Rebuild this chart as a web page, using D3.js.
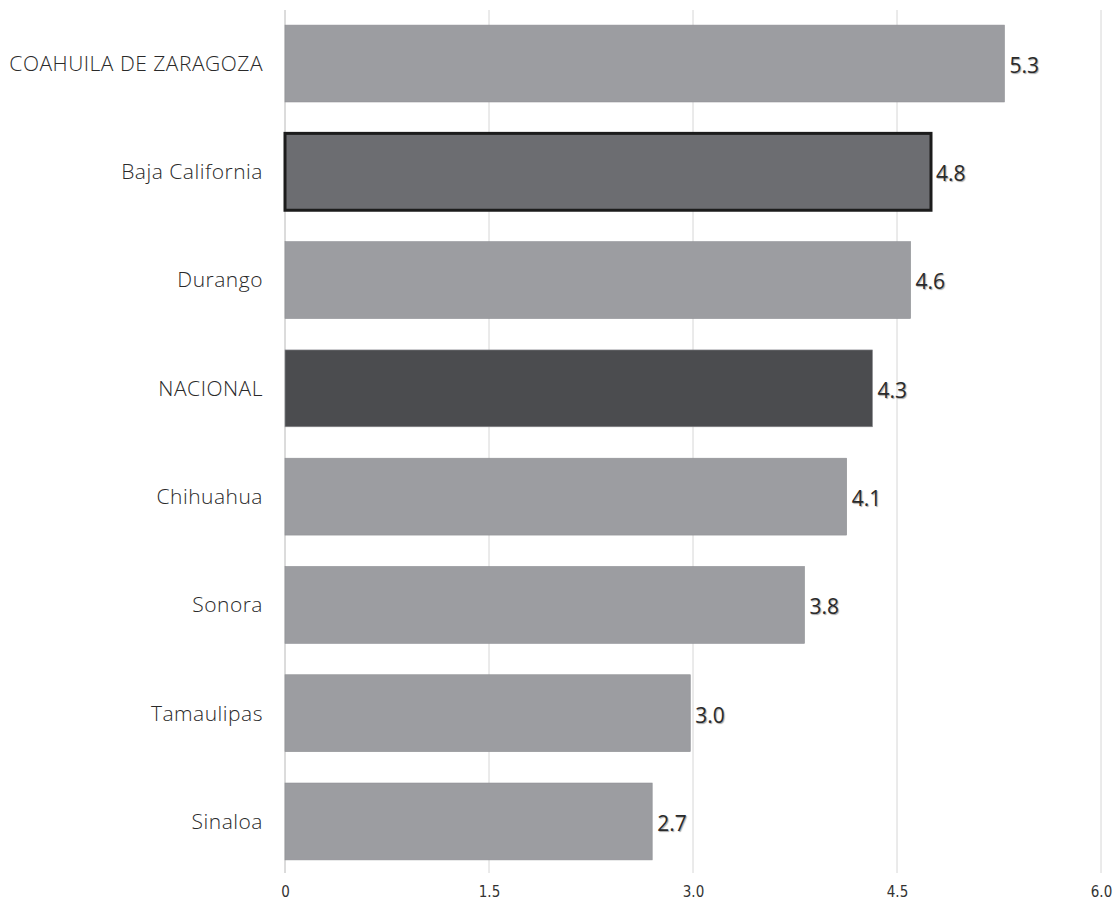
<!DOCTYPE html>
<html>
<head>
<meta charset="utf-8">
<script src="https://cdn.jsdelivr.net/npm/d3@7"></script>
<style>
  html, body { margin: 0; padding: 0; background: #fff; }
  svg { display: block; }
  .cat { font-family: "Open Sans", "Lato", sans-serif; font-weight: 300; font-size: 21px; letter-spacing: 0.5px; fill: #2a2a2a; }
  .val { font-family: "Open Sans", "Lato", sans-serif; font-size: 21px; fill: #2a2a2a; text-shadow: 1px 1px 1px rgba(0,0,0,0.35); }
</style>
</head>
<body>
<svg id="chart" width="1115" height="902"></svg>
<script>
const categories = ["COAHUILA DE ZARAGOZA", "Baja California", "Durango", "NACIONAL", "Chihuahua", "Sonora", "Tamaulipas", "Sinaloa"];
const values = [5.29, 4.75, 4.6, 4.32, 4.13, 3.82, 2.98, 2.7];
const tickValues = [0, 1.5, 3.0, 4.5, 6.0];
const tickLabels = ["0", "1.5", "3.0", "4.5", "6.0"];
const highlight = { "Baja California": "state", "NACIONAL": "national" };

const svg = d3.select("#chart");
const x = d3.scaleLinear().domain([0, 6]).range([285, 1101]);
const y = d3.scaleBand().domain(categories).range([9.4, 875.6]).paddingInner(0.29).paddingOuter(0.145);

// gridlines
svg.append("g").selectAll("line").data(tickValues).join("line")
  .attr("x1", d => x(d)).attr("x2", d => x(d))
  .attr("y1", 10).attr("y2", 873)
  .attr("stroke", d => d === 0 ? "#b8b8b8" : "#d6d6d6").attr("stroke-width", 1);

// x axis labels
const ax = svg.append("g").attr("transform", "translate(0,873)")
  .call(d3.axisBottom(x).tickValues(tickValues).tickSize(0).tickPadding(13)
    .tickFormat((d, i) => tickLabels[i]));
ax.select(".domain").remove();
ax.selectAll(".tick text")
  .attr("font-family", "'Liberation Sans Narrow', 'DejaVu Sans Condensed', sans-serif")
  .attr("font-size", 15)
  .attr("fill", "#333");

const data = categories.map((c, i) => ({ c, v: values[i] }));

function fill(d) {
  if (highlight[d.c] === "national") return "#4b4c4f";
  if (highlight[d.c] === "state") return "#6c6d71";
  return "#9c9da1";
}

svg.append("g").selectAll("rect").data(data).join("rect")
  .attr("x", x(0))
  .attr("y", d => y(d.c))
  .attr("width", d => x(d.v) - x(0))
  .attr("height", y.bandwidth())
  .attr("fill", fill)
  .attr("stroke", d => highlight[d.c] === "state" ? "#1c1c1c" : "#8e8f93")
  .attr("stroke-width", d => highlight[d.c] === "state" ? 3 : 0.6);

// category labels
svg.append("g").selectAll("text").data(data).join("text")
  .attr("class", "cat")
  .attr("x", 263)
  .attr("y", d => y(d.c) + y.bandwidth() / 2)
  .attr("dy", "0.35em")
  .attr("text-anchor", "end")
  .text(d => d.c);

// value labels
svg.append("g").selectAll("text").data(data).join("text")
  .attr("class", "val")
  .attr("x", d => x(d.v) + 5)
  .attr("y", d => y(d.c) + y.bandwidth() / 2 + 2)
  .attr("dy", "0.35em")
  .text(d => d3.format(".1f")(d.v));
</script>
</body>
</html>
